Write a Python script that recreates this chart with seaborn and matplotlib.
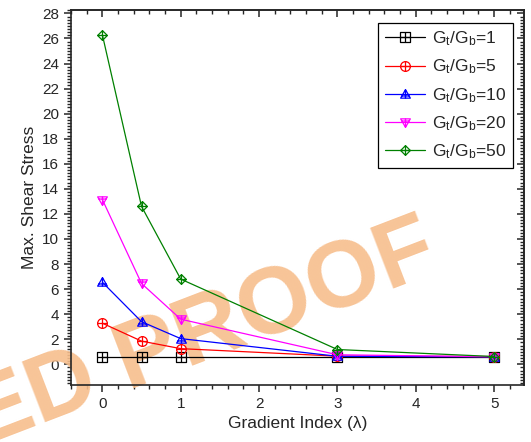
import numpy as np
import pandas as pd
import matplotlib
matplotlib.use("Agg")
import matplotlib.pyplot as plt
from matplotlib.path import Path
from matplotlib.ticker import MultipleLocator
import seaborn as sns

# Datos
gradient_index = [0, 0.5, 1, 3, 5]
ratio_1 = [0.62, 0.62, 0.62, 0.62, 0.62]
ratio_5 = [3.28, 1.85, 1.25, 0.65, 0.62]
ratio_10 = [6.55, 3.40, 2.05, 0.64, 0.60]
ratio_20 = [13.15, 6.45, 3.60, 0.76, 0.60]
ratio_50 = [26.30, 12.60, 6.80, 1.18, 0.62]
ratio_labels = ["1", "5", "10", "20", "50"]
series = [ratio_1, ratio_5, ratio_10, ratio_20, ratio_50]
colores = ["black", "#ff0000", "#0000ff", "#ff00ff", "#008000"]

sns.set_style("ticks")
plt.rcParams["font.family"] = ["Liberation Sans", "DejaVu Sans"]
plt.rcParams["mathtext.fontset"] = "custom"
plt.rcParams["mathtext.rm"] = "Liberation Sans"


# Marcadores estilo Origin: figura hueca con una cruz dentro
def marcador(contorno, cruz):
    partes = [Path(contorno + [contorno[0]], closed=True)]
    for a, b in cruz:
        partes.append(Path([a, b]))
    return Path.make_compound_path(*partes)


circ = Path.unit_circle()
mk_square = marcador([(-1, -1), (1, -1), (1, 1), (-1, 1)], [((-1, 0), (1, 0)), ((0, -1), (0, 1))])
mk_circle = Path.make_compound_path(circ, Path([(-1, 0), (1, 0)]), Path([(0, -1), (0, 1)]))
mk_up = marcador([(0, 1), (-1, -0.75), (1, -0.75)], [((-0.8, -0.3), (0.8, -0.3)), ((0, 1), (0, -0.75))])
mk_down = marcador([(0, -1), (-1, 0.75), (1, 0.75)], [((-0.8, 0.3), (0.8, 0.3)), ((0, -1), (0, 0.75))])
mk_diamond = marcador([(0, 1), (1, 0), (0, -1), (-1, 0)], [((-1, 0), (1, 0)), ((0, -1), (0, 1))])
marcadores = [mk_square, mk_circle, mk_up, mk_down, mk_diamond]

fig = plt.figure(figsize=(5.31, 4.42), dpi=100)
ax = fig.add_axes([0.1337, 0.129, 0.853, 0.848])

for vals, lab, col, mk in zip(series, ratio_labels, colores, marcadores):
    df = pd.DataFrame({"x": gradient_index, "y": vals})
    sns.lineplot(data=df, x="x", y="y", ax=ax, color=col, lw=0.9,
                 marker=mk, markersize=7, mfc="none", mec=col, mew=0.9,
                 label=r"$\mathregular{G_t/G_b}$=" + lab, zorder=3)

# Marca de agua (detrás de las líneas)
ax.text(0.832, 0.388, "ED PROOF", transform=fig.transFigure, rotation=21,
        rotation_mode="anchor", ha="right", va="baseline", fontsize=68,
        fontweight="bold", color="#f7be8c", alpha=0.9, zorder=1, clip_on=False)

ax.set_xlim(-0.4, 5.38)
ax.set_ylim(-1.65, 28.26)
ax.xaxis.set_major_locator(MultipleLocator(1))
ax.xaxis.set_minor_locator(MultipleLocator(0.2))
ax.yaxis.set_major_locator(MultipleLocator(2))
ax.yaxis.set_minor_locator(MultipleLocator(0.25))
ax.tick_params(which="major", direction="out", length=5, width=1.1, labelsize=11)
ax.tick_params(which="minor", direction="out", length=3, width=1.0)

# ejes superior y derecho con marcas hacia dentro
top = ax.secondary_xaxis("top")
top.xaxis.set_major_locator(MultipleLocator(1))
top.xaxis.set_minor_locator(MultipleLocator(0.2))
top.tick_params(which="major", direction="in", length=5, width=1.1, labeltop=False)
top.tick_params(which="minor", direction="in", length=3, width=1.0)
right = ax.secondary_yaxis("right")
right.yaxis.set_major_locator(MultipleLocator(2))
right.yaxis.set_minor_locator(MultipleLocator(0.25))
right.tick_params(which="major", direction="in", length=5, width=1.1, labelright=False)
right.tick_params(which="minor", direction="in", length=3, width=1.0)

for sp in ax.spines.values():
    sp.set_linewidth(1.2)
    sp.set_visible(True)
top.spines["top"].set_linewidth(1.2)
right.spines["right"].set_linewidth(1.2)

ax.set_xlabel("Gradient Index (λ)", fontsize=12.5, labelpad=4)
ax.set_ylabel("Max. Shear Stress", fontsize=12.5, labelpad=4)

leg = ax.legend(loc="upper right", bbox_to_anchor=(0.975, 0.967), fontsize=12.5,
                numpoints=1, handlelength=2.3, handletextpad=0.4,
                labelspacing=0.55, borderpad=0.4, fancybox=False,
                framealpha=1, edgecolor="black", borderaxespad=0)
leg.get_frame().set_linewidth(0.9)

fig.savefig("out.png", dpi=100)
